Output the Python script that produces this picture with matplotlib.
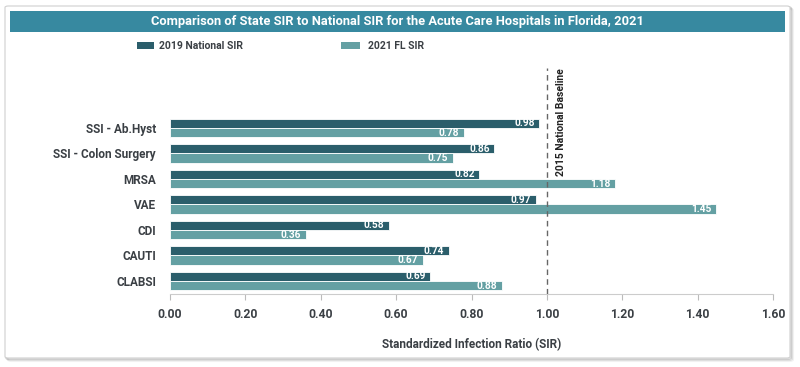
import numpy as np
import matplotlib
matplotlib.use('Agg')
import matplotlib.pyplot as plt
import matplotlib.patches as mpatches

plt.rcParams['font.family'] = ['Roboto', 'DejaVu Sans']

# data
categories = ["SSI - Ab.Hyst", "SSI - Colon Surgery", "MRSA", "VAE", "CDI", "CAUTI", "CLABSI"]
national_2019 = [0.98, 0.86, 0.82, 0.97, 0.58, 0.74, 0.69]
fl_2021 = [0.78, 0.75, 1.18, 1.45, 0.36, 0.67, 0.88]
x_ticks = [0.0, 0.2, 0.4, 0.6, 0.8, 1.0, 1.2, 1.4, 1.6]
baseline = 1.0

DARK = '#2b5e6b'
LIGHT = '#64a0a3'
BANNER = '#3789a0'
TXT = '#3a3f44'

W, H = 800, 367
fig = plt.figure(figsize=(W / 100, H / 100), dpi=100)
fig.patch.set_facecolor('white')

def fx(px):
    return px / W

def fy(py):
    return 1 - py / H

# outer frame with a soft shadow
for i, a in enumerate([0.05, 0.08, 0.12]):
    d = 3 - i
    fig.patches.append(mpatches.FancyBboxPatch(
        (fx(5 + d), fy(358 + d)), fx(785), 1 - fy(352), boxstyle='round,pad=0,rounding_size=0.004',
        transform=fig.transFigure, facecolor='none', edgecolor='black', alpha=a, lw=1.5, zorder=0))
fig.patches.append(mpatches.FancyBboxPatch(
    (fx(5), fy(358)), fx(785), 1 - fy(352), boxstyle='round,pad=0,rounding_size=0.004',
    transform=fig.transFigure, facecolor='white', edgecolor='#d0d0d0', lw=0.8, zorder=0.5))

# title banner
fig.patches.append(mpatches.Rectangle((fx(10), fy(32)), fx(775), 1 - fy(21),
                                      transform=fig.transFigure, facecolor=BANNER,
                                      edgecolor='none', zorder=1))
fig.text(fx(397), fy(21.5), 'Comparison of State SIR to National SIR for the Acute Care Hospitals in Florida, 2021',
         ha='center', va='center', color='white', fontsize=9.3, fontweight='bold', zorder=2)

# axes
ax = fig.add_axes([fx(170), fy(294), fx(773) - fx(170), fy(68) - fy(294)])
ax.set_zorder(3)
y = np.arange(len(categories))[::-1]
h = 0.36
b1 = ax.barh(y + h / 2, national_2019, height=h, color=DARK, edgecolor='white', linewidth=0.6)
b2 = ax.barh(y - h / 2, fl_2021, height=h, color=LIGHT, edgecolor='white', linewidth=0.6)

for bars, vals in ((b1, national_2019), (b2, fl_2021)):
    for bar, v in zip(bars, vals):
        ax.text(v - 0.012, bar.get_y() + bar.get_height() / 2, f'{v:.2f}',
                ha='right', va='center', color='white', fontsize=7.3, fontweight='bold')

ax.axvline(baseline, color='#666666', linestyle=(0, (4, 3)), linewidth=1.0, zorder=3)
ax.text(baseline + 0.037, 8.33, '2015 National Baseline', rotation=90, ha='center', va='top',
        fontsize=7.5, fontweight='bold', color='#222222')

ax.set_xlim(0, 1.6)
ax.set_ylim(-0.51, 8.35)
ax.set_xticks(x_ticks)
ax.set_xticklabels([f'{t:.2f}' for t in x_ticks], fontsize=8.7, fontweight='bold', color=TXT)
ax.set_yticks(y)
ax.set_yticklabels(categories, fontsize=8.5, fontweight='bold', color=TXT)
ax.tick_params(axis='y', length=0, pad=10)
ax.tick_params(axis='x', length=4, color='#bbbbbb', pad=6)
for s in ('top', 'right', 'left'):
    ax.spines[s].set_visible(False)
ax.spines['bottom'].set_color('#cccccc')
ax.set_facecolor('none')
ax.set_xlabel('Standardized Infection Ratio (SIR)', fontsize=8.5, fontweight='bold', color=TXT, labelpad=12)

# legend
fig.patches.append(mpatches.Rectangle((fx(137), fy(49)), fx(17), 1 - fy(7),
                                      transform=fig.transFigure, facecolor=DARK, edgecolor='none', zorder=2))
fig.text(fx(159), fy(46), '2019 National SIR', ha='left', va='center', fontsize=7.5,
         fontweight='bold', color=TXT)
fig.patches.append(mpatches.Rectangle((fx(341), fy(49)), fx(19), 1 - fy(7),
                                      transform=fig.transFigure, facecolor=LIGHT, edgecolor='none', zorder=2))
fig.text(fx(368), fy(46), '2021 FL SIR', ha='left', va='center', fontsize=7.5,
         fontweight='bold', color=TXT)

plt.savefig('out.png', dpi=100, facecolor='white')
